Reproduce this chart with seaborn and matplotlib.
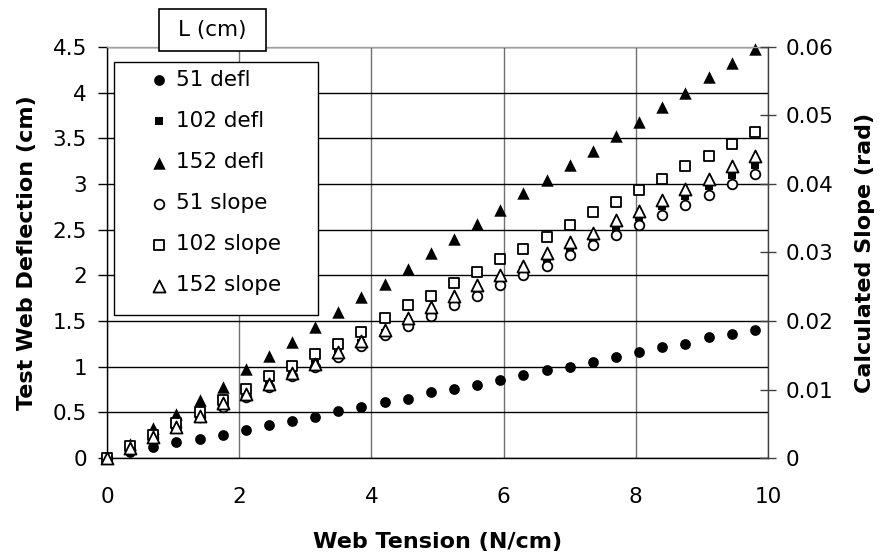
import matplotlib
matplotlib.use("Agg")
import matplotlib.pyplot as plt
import seaborn as sns
from matplotlib.patches import Rectangle

# Tension na rede (N/cm)
tensao = [0, 0.35, 0.7, 1.05, 1.4, 1.75, 2.1, 2.45, 2.8, 3.15, 3.5, 3.85, 4.2, 4.55,
          4.9, 5.25, 5.6, 5.95, 6.3, 6.65, 7.0, 7.35, 7.7, 8.05, 8.4, 8.75, 9.1, 9.45, 9.8]

# Deflexao medida (cm)
defl_51 = [0, 0.07, 0.12, 0.17, 0.21, 0.25, 0.31, 0.36, 0.41, 0.45, 0.52, 0.56, 0.61, 0.65,
           0.72, 0.76, 0.80, 0.85, 0.91, 0.96, 1.00, 1.05, 1.11, 1.16, 1.21, 1.25, 1.32, 1.36, 1.40]
defl_102 = [0, 0.11, 0.23, 0.35, 0.47, 0.60, 0.69, 0.80, 0.91, 1.03, 1.14, 1.26, 1.37, 1.49,
            1.60, 1.72, 1.83, 1.95, 2.06, 2.17, 2.29, 2.41, 2.52, 2.64, 2.76, 2.87, 2.98, 3.10, 3.21]
defl_152 = [0, 0.15, 0.33, 0.48, 0.63, 0.78, 0.97, 1.12, 1.27, 1.43, 1.60, 1.76, 1.91, 2.07,
            2.25, 2.40, 2.56, 2.71, 2.90, 3.04, 3.21, 3.36, 3.53, 3.68, 3.84, 4.00, 4.17, 4.33, 4.48]

# Inclinacao calculada (rad)
slope_51 = [0, 0.0011, 0.0029, 0.0045, 0.0060, 0.0075, 0.0089, 0.0104, 0.0119, 0.0133, 0.0148,
            0.0163, 0.0179, 0.0193, 0.0208, 0.0223, 0.0237, 0.0252, 0.0267, 0.0281, 0.0296,
            0.0311, 0.0325, 0.0340, 0.0355, 0.0369, 0.0384, 0.0400, 0.0415]
slope_102 = [0, 0.0017, 0.0033, 0.0051, 0.0067, 0.0084, 0.0101, 0.0119, 0.0135, 0.0152, 0.0167,
             0.0184, 0.0204, 0.0223, 0.0237, 0.0255, 0.0272, 0.0291, 0.0305, 0.0323, 0.0340,
             0.0359, 0.0373, 0.0391, 0.0408, 0.0427, 0.0441, 0.0459, 0.0476]
slope_152 = [0, 0.0015, 0.0031, 0.0045, 0.0061, 0.0080, 0.0093, 0.0108, 0.0124, 0.0137, 0.0155,
             0.0171, 0.0187, 0.0204, 0.0220, 0.0236, 0.0252, 0.0267, 0.0281, 0.0299, 0.0315,
             0.0329, 0.0347, 0.0361, 0.0376, 0.0393, 0.0408, 0.0427, 0.0441]

sns.set_style("white")
plt.rcParams["font.family"] = ["DejaVu Sans"]
plt.rcParams["text.color"] = "black"
plt.rcParams["axes.labelcolor"] = "black"
plt.rcParams["xtick.labelcolor"] = "black"
plt.rcParams["ytick.labelcolor"] = "black"

fig = plt.figure(figsize=(8.81, 5.59), dpi=100)
ax = fig.add_axes([107 / 881, 1 - 458 / 559, 661 / 881, 411 / 559])
ax2 = ax.twinx()

# Series de deflexao (eixo esquerdo)
sns.scatterplot(x=tensao, y=defl_51, ax=ax, marker="o", s=60, color="black",
                edgecolor="black", linewidth=0, label="51 defl", legend=False)
sns.scatterplot(x=tensao, y=defl_102, ax=ax, marker="s", s=40, color="black",
                edgecolor="black", linewidth=0, label="102 defl", legend=False)
sns.scatterplot(x=tensao, y=defl_152, ax=ax, marker="^", s=80, color="black",
                edgecolor="black", linewidth=0, label="152 defl", legend=False)

# Series de inclinacao (eixo direito)
sns.scatterplot(x=tensao, y=slope_51, ax=ax2, marker="o", s=48, color="white",
                edgecolor="black", linewidth=1.3, label="51 slope", legend=False)
sns.scatterplot(x=tensao, y=slope_102, ax=ax2, marker="s", s=48, color="white",
                edgecolor="black", linewidth=1.3, label="102 slope", legend=False)
sns.scatterplot(x=tensao, y=slope_152, ax=ax2, marker="^", s=75, color="white",
                edgecolor="black", linewidth=1.3, label="152 slope", legend=False)

for col in ax.collections + ax2.collections:
    col.set_clip_on(False)

ax.set_xlim(0, 10)
ax.set_ylim(0, 4.5)
ax2.set_ylim(0, 0.06)
ax.set_xticks([0, 2, 4, 6, 8, 10])
ax.set_yticks([0, 0.5, 1, 1.5, 2, 2.5, 3, 3.5, 4, 4.5])
ax.set_yticklabels(["0", "0.5", "1", "1.5", "2", "2.5", "3", "3.5", "4", "4.5"])
ax2.set_yticks([0, 0.01, 0.02, 0.03, 0.04, 0.05, 0.06])
ax2.set_yticklabels(["0", "0.01", "0.02", "0.03", "0.04", "0.05", "0.06"])

# Grade: horizontais pretas, verticais cinza
ax.grid(axis="y", color="black", linewidth=1)
ax.grid(axis="x", color="#707070", linewidth=1)
ax.set_axisbelow(True)

for sp in ax.spines.values():
    sp.set_linewidth(1)
ax.spines["left"].set_color("black")
ax.spines["bottom"].set_color("black")
ax.spines["top"].set_color("#a0a0a0")
ax.spines["right"].set_visible(False)
ax2.spines["right"].set_color("#404040")
ax2.spines["right"].set_linewidth(1)
for s in ["left", "top", "bottom"]:
    ax2.spines[s].set_visible(False)

ax.tick_params(axis="y", direction="out", length=6.5, width=1, color="black",
               labelsize=15.5, pad=8, labelcolor="black")
ax.tick_params(axis="x", direction="out", length=6, width=1, color="#707070",
               labelsize=15.5, pad=15, labelcolor="black")
ax2.tick_params(axis="y", direction="inout", length=11, width=1, color="#404040",
                labelsize=15.5, pad=7, labelcolor="black")

ax.set_xlabel("Web Tension (N/cm)", fontsize=16, fontweight="bold", color="black")
ax.set_ylabel("Test Web Deflection (cm)", fontsize=16, fontweight="bold", color="black")
ax2.set_ylabel("Calculated Slope (rad)", fontsize=16, fontweight="bold", color="black")
ax.xaxis.set_label_coords(0.5, (458 - 532) / 411)
ax.yaxis.set_label_coords((37 - 107) / 661, 0.5)
ax2.yaxis.set_label_coords((855 - 107) / 661, 0.5)

# Caixa da legenda desenhada a parte
x0 = (114 - 107) / 661
y0 = (458 - 315) / 411
ax2.add_patch(Rectangle((x0, y0), (318 - 114) / 661, (315 - 62) / 411,
                        transform=ax2.transAxes, facecolor="white",
                        edgecolor="black", linewidth=1, zorder=4.5))

handles = ax.collections + ax2.collections
labels = ["51 defl", "102 defl", "152 defl", "51 slope", "102 slope", "152 slope"]
leg = ax2.legend(handles, labels, loc="upper left",
                 bbox_to_anchor=((150 - 107) / 661, (458 - 70) / 411),
                 frameon=False, fontsize=15.5, handlelength=0.8, handletextpad=0.4,
                 labelspacing=0.98, borderpad=0, borderaxespad=0, labelcolor="black")
leg.set_zorder(5)

# Titulo da legenda em caixa separada
fig.add_artist(Rectangle((159 / 881, 1 - 51 / 559), 107 / 881, 42 / 559,
                         transform=fig.transFigure, facecolor="white",
                         edgecolor="black", linewidth=1.2, zorder=10))
fig.text(212.5 / 881, 1 - 30 / 559, "L (cm)", ha="center", va="center",
         fontsize=15.5, color="black", zorder=11)

fig.savefig("out.png", dpi=100)
